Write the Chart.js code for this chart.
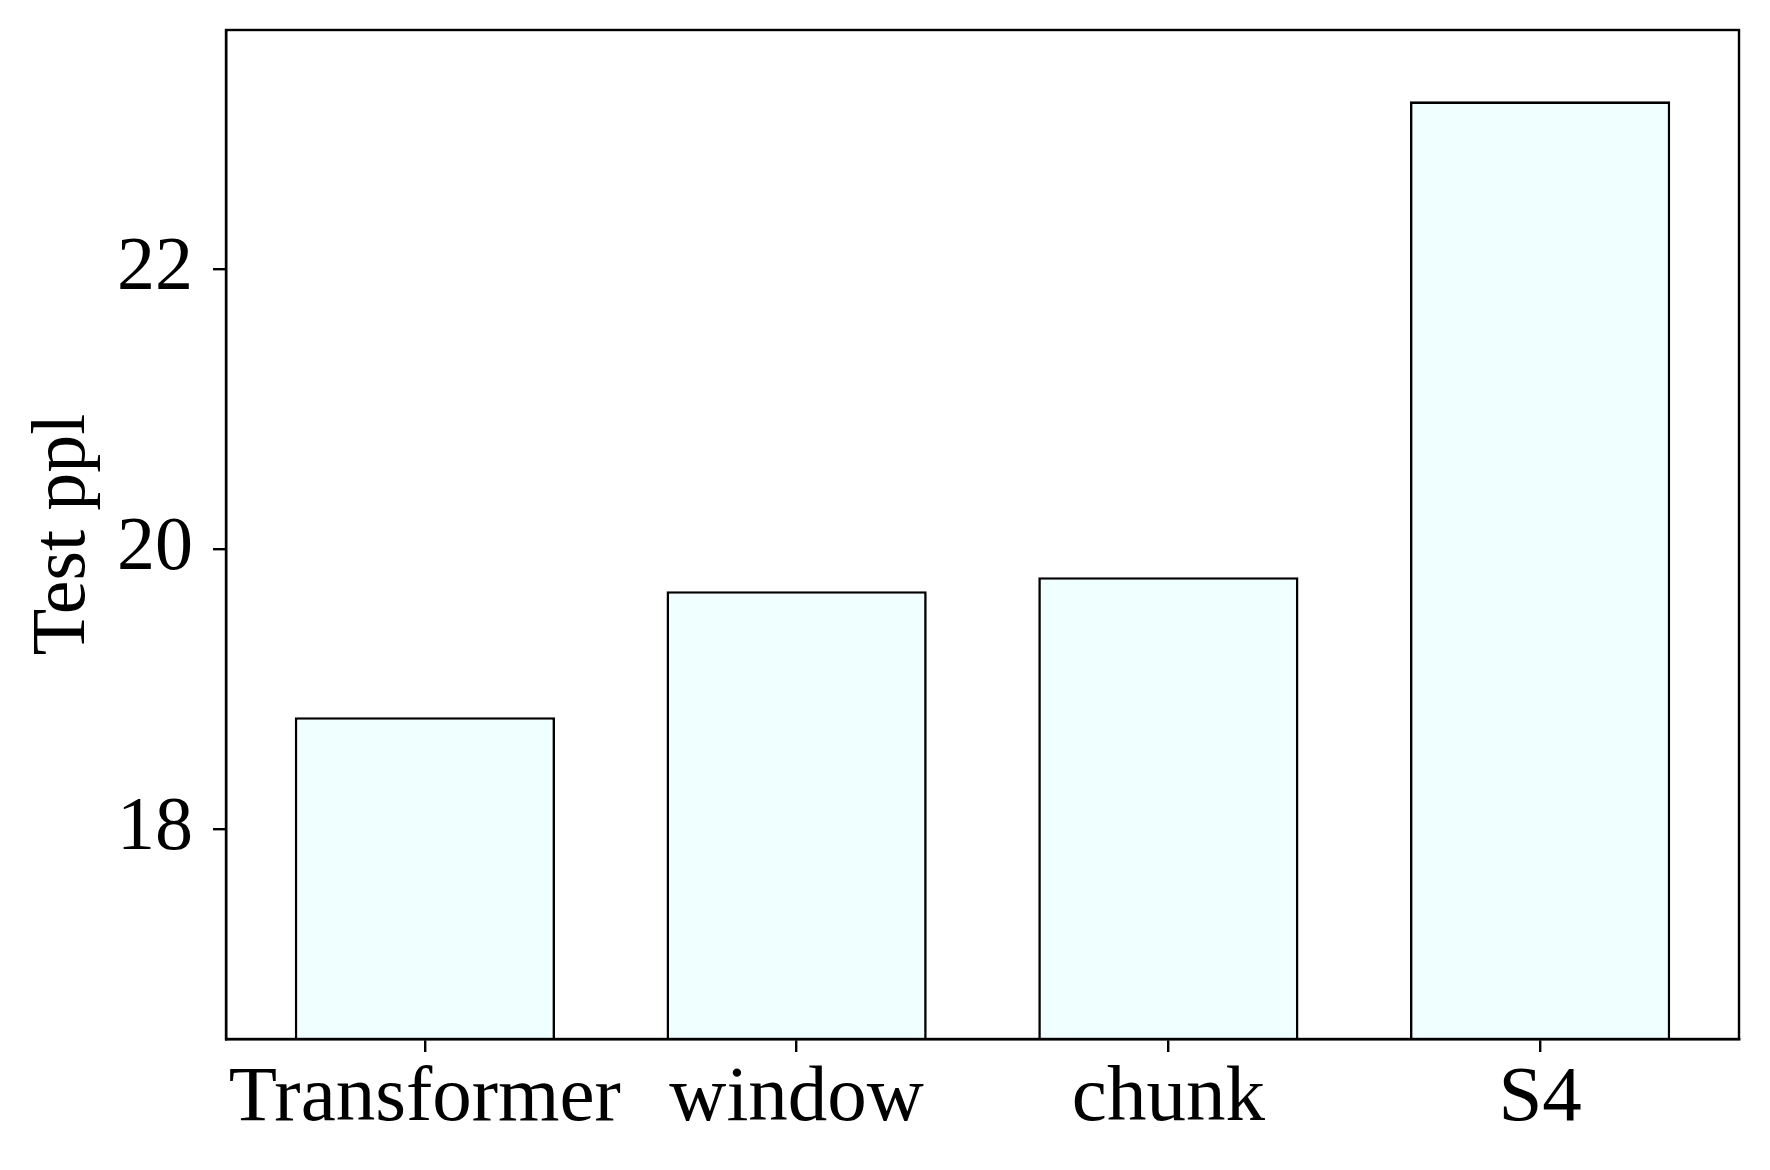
<!DOCTYPE html>
<html>
<head>
<meta charset="utf-8">
<script src="https://cdn.jsdelivr.net/npm/chart.js"></script>
<style>
  html, body { margin: 0; padding: 0; background: #fff; }
  #wrap { width: 1770px; height: 1170px; }
</style>
</head>
<body>
<div id="wrap"><canvas id="chart" width="1770" height="1170"></canvas></div>
<script>
// data
const categories = ['Transformer', 'window', 'chunk', 'S4'];
const testPpl = [18.8, 19.7, 19.8, 23.2];
const yTicks = [18, 20, 22];

const FONT = '"Liberation Serif", "Times New Roman", serif';

// matplotlib draws a full box around the axes
const frame = {
  id: 'frame',
  afterDraw(chart) {
    const { ctx, chartArea: a } = chart;
    ctx.save();
    ctx.strokeStyle = '#000';
    ctx.lineWidth = 2.4;
    ctx.strokeRect(a.left, a.top, a.right - a.left, a.bottom - a.top);
    ctx.restore();
  }
};

// matplotlib's x margins: bars of width 0.7 plus 5% padding -> range -0.535..3.535
const xMargins = {
  id: 'xMargins',
  afterLayout(chart) {
    const x = chart.scales.x;
    const pad = 0.35 + 0.05 * (categories.length - 1 + 0.7);
    x._startValue = -pad;
    x._valueRange = categories.length - 1 + 2 * pad;
  }
};

new Chart(document.getElementById('chart'), {
  type: 'bar',
  data: {
    labels: categories,
    datasets: [{
      data: testPpl,
      backgroundColor: '#F0FFFF',
      borderColor: '#000',
      borderWidth: 2.6,
      borderSkipped: false,
      barPercentage: 0.7,
      categoryPercentage: 1.0
    }]
  },
  options: {
    responsive: false,
    animation: false,
    layout: { padding: { left: 0, right: 31, top: 30, bottom: 0 } },
    plugins: { legend: { display: false }, tooltip: { enabled: false } },
    scales: {
      x: {
        afterFit: s => { s.height = 131; s.paddingLeft = 0; s.paddingRight = 0; },
        border: { display: true, color: '#000', width: 2.4 },
        grid: { drawOnChartArea: false, drawTicks: true, tickLength: 13, color: '#000', lineWidth: 2.4, offset: false },
        ticks: {
          color: '#000',
          padding: 8,
          maxRotation: 0,
          autoSkip: false,
          font: { family: FONT, size: 79, lineHeight: 1 }
        }
      },
      y: {
        min: 16.5,
        max: 23.71,
        afterBuildTicks: s => { s.ticks = yTicks.map(v => ({ value: v })); },
        afterFit: s => { s.width = 226; s.paddingTop = 0; s.paddingBottom = 0; },
        border: { display: true, color: '#000', width: 2.4 },
        grid: { drawOnChartArea: false, drawTicks: true, tickLength: 13, color: '#000', lineWidth: 2.4 },
        ticks: {
          color: '#000',
          padding: 20,
          font: { family: FONT, size: 76, lineHeight: 1 }
        },
        title: {
          display: true,
          text: 'Test ppl',
          color: '#000',
          padding: { top: 26, bottom: 0 },
          font: { family: FONT, size: 76, lineHeight: 1 }
        }
      }
    }
  },
  plugins: [xMargins, frame]
});
</script>
</body>
</html>
